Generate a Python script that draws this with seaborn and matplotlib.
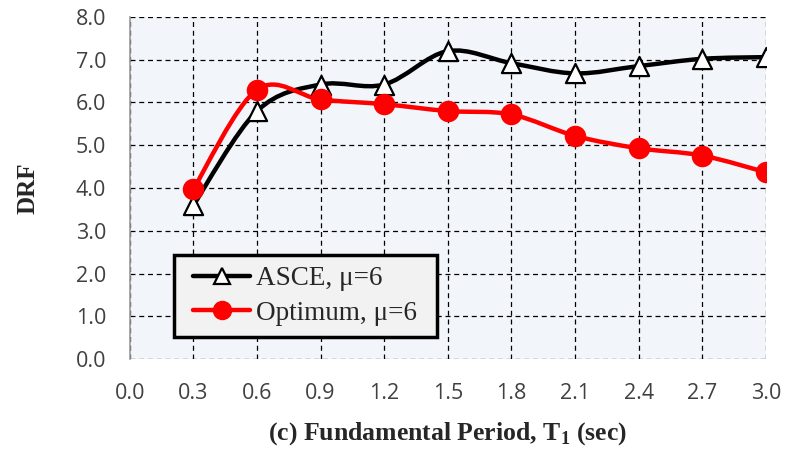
import numpy as np
import pandas as pd
import seaborn as sns
import matplotlib
matplotlib.use("Agg")
import matplotlib.pyplot as plt
from matplotlib.path import Path
from matplotlib.patches import PathPatch, Rectangle
from matplotlib.lines import Line2D
from matplotlib.transforms import IdentityTransform

periods = [0.3, 0.6, 0.9, 1.2, 1.5, 1.8, 2.1, 2.4, 2.7, 3.0]
asce = [3.6, 5.8, 6.42, 6.42, 7.2, 6.92, 6.68, 6.85, 7.02, 7.06]
optimum = [3.98, 6.3, 6.07, 5.96, 5.8, 5.72, 5.22, 4.93, 4.76, 4.37]
x_ticks = [0.0, 0.3, 0.6, 0.9, 1.2, 1.5, 1.8, 2.1, 2.4, 2.7, 3.0]
y_ticks = [0.0, 1.0, 2.0, 3.0, 4.0, 5.0, 6.0, 7.0, 8.0]
labels = ["ASCE, \u03bc=6", "Optimum, \u03bc=6"]

sns.set_style("white")
plt.rcParams["font.family"] = ["Open Sans", "DejaVu Sans"]

fig = plt.figure(figsize=(7.87, 4.57), dpi=100)
ax = fig.add_axes([0.165, 0.214, 0.808, 0.749])
ax.set_facecolor("#f2f6fb")

def smooth_path(xs, ys):
    xs = np.asarray(xs, float); ys = np.asarray(ys, float)
    pts = np.column_stack([xs, ys])
    verts = [pts[0]]
    codes = [Path.MOVETO]
    n = len(pts)
    for i in range(n - 1):
        p0 = pts[i - 1] if i > 0 else pts[i]
        p1 = pts[i]
        p2 = pts[i + 1]
        p3 = pts[i + 2] if i + 2 < n else pts[i + 1]
        c1 = p1 + (p2 - p0) / 6.0
        c2 = p2 - (p3 - p1) / 6.0
        verts += [c1, c2, p2]
        codes += [Path.CURVE4] * 3
    return Path(verts, codes)

df = pd.DataFrame({"T": periods * 2, "DRF": asce + optimum,
                   "series": [labels[0]] * len(periods) + [labels[1]] * len(periods)})

ax.add_patch(PathPatch(smooth_path(periods, asce), facecolor="none",
                       edgecolor="black", lw=3.2, zorder=3, capstyle="round"))
ax.add_patch(PathPatch(smooth_path(periods, optimum), facecolor="none",
                       edgecolor="#ff0000", lw=3.2, zorder=4, capstyle="round"))

sns.scatterplot(data=df[df.series == labels[0]], x="T", y="DRF", marker="^", s=190,
                color="white", edgecolor="black", linewidth=1.6, zorder=5, ax=ax, legend=False)
sns.scatterplot(data=df[df.series == labels[1]], x="T", y="DRF", marker="o", s=240,
                color="#ff0000", edgecolor="#ff0000", linewidth=0, zorder=6, ax=ax, legend=False)

ax.set_xlim(0, 3.0)
ax.set_ylim(0, 8.0)
ax.set_xticks(x_ticks)
ax.set_yticks(y_ticks)
ax.set_xticklabels([f"{v:.1f}" for v in x_ticks])
ax.set_yticklabels([f"{v:.1f}" for v in y_ticks])
ax.tick_params(axis="both", labelsize=15.5, labelcolor="#404040", color="#9a9a9a", width=1.0)
ax.tick_params(axis="y", length=7, pad=10)
ax.tick_params(axis="x", length=4, pad=13)
ax.grid(True, color="black", linestyle=(0, (4, 3)), linewidth=0.9)
ax.set_axisbelow(True)
for s in ["top", "right", "bottom"]:
    ax.spines[s].set_visible(False)
ax.spines["left"].set_color("#9a9a9a")
ax.spines["left"].set_linewidth(1.2)

ax.set_xlabel("(c) Fundamental Period, T$_\\mathregular{1}$ (sec)", fontsize=18.5,
              fontweight="bold", family="Liberation Serif", labelpad=12)
ax.set_ylabel("DRF", fontsize=18, fontweight="bold", family="Liberation Serif", labelpad=26)

handles = [Line2D([], [], color="black", lw=3.2, marker="^", markersize=12,
                  markerfacecolor="white", markeredgecolor="black", markeredgewidth=1.6),
           Line2D([], [], color="#ff0000", lw=3.2, marker="o", markersize=13,
                  markerfacecolor="#ff0000", markeredgecolor="#ff0000")]
leg = ax.legend(handles, labels, loc="lower left", bbox_to_anchor=(0.083, 0.066),
                prop={"family": "Liberation Serif", "size": 19.5}, frameon=False,
                handlelength=2.1, handletextpad=0.2, borderpad=0.4, labelspacing=0.35,
                borderaxespad=0)
leg.set_zorder(10)

fig.canvas.draw()
bb = leg.get_window_extent()
dx = 9
rect = Rectangle((bb.x0 - dx, bb.y0), bb.width + 2 * dx, bb.height,
                 transform=IdentityTransform(), facecolor="#f2f2f2", edgecolor="black",
                 linewidth=2.5, zorder=9, clip_on=False)
ax.add_patch(rect)

fig.savefig("out.png", dpi=100)
